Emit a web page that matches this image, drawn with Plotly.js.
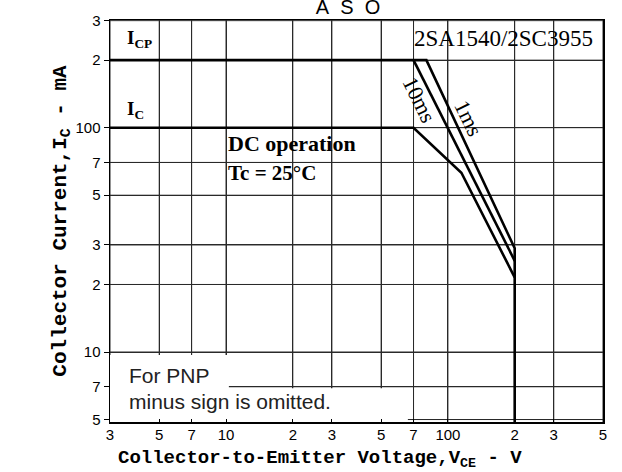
<!DOCTYPE html>
<html>
<head>
<meta charset="utf-8">
<script src="https://cdn.plot.ly/plotly-3.0.1.min.js"></script>
<style>html,body{margin:0;padding:0;background:#fff;}#chart{width:622px;height:472px;}</style>
</head>
<body>
<div id="chart"></div>
<script>
// Safe operating area data (VCE in V, IC in mA)
const vce1ms = [3, 80, 200, 200];
const ic1ms = [200, 200, 29, 4.8];
const vce10ms = [70, 200];
const ic10ms = [200, 25.5];
const vceDC = [3, 70, 115, 200];
const icDC = [100, 100, 63, 21.5];

// white note box behind the "For PNP" text (covers the grid there)
const noteBoxX = [3, 3, 10.3, 10.3, 66, 66, 3];
const noteBoxY = [4.5, 9.7, 9.7, 6.9, 6.9, 4.5, 4.5];

const xTickVals = [3, 5, 7, 10, 20, 30, 50, 70, 100, 200, 300, 500];
const xTickText = ['3', '5', '7', '10', '2', '3', '5', '7', '100', '2', '3', '5'];
const yTickVals = [5, 7, 10, 20, 30, 50, 70, 100, 200, 300];
const yTickText = ['5', '7', '10', '2', '3', '5', '7', '100', '2', '3'];

const L = Math.log10;
const xRange = [L(3), L(500)];
const yRange = [0.688, 2.48];

// grid drawn as line traces at the tick values (spanning the axis ranges)
const gx = [], gy = [];
xTickVals.forEach(v => { gx.push(v, v, null); gy.push(Math.pow(10, yRange[0]), Math.pow(10, yRange[1]), null); });
yTickVals.forEach(v => { gx.push(Math.pow(10, xRange[0]), Math.pow(10, xRange[1]), null); gy.push(v, v, null); });

const lineStyle = {color: '#000', width: 2.6};
const traces = [
  {x: gx, y: gy, mode: 'lines', line: {color: '#2a2a2a', width: 1}, hoverinfo: 'skip', connectgaps: false},
  {x: noteBoxX, y: noteBoxY, mode: 'none', fill: 'toself', fillcolor: '#fff', hoverinfo: 'skip'},
  {x: vce1ms, y: ic1ms, mode: 'lines', line: lineStyle, hoverinfo: 'skip'},
  {x: vce10ms, y: ic10ms, mode: 'lines', line: lineStyle, hoverinfo: 'skip'},
  {x: vceDC, y: icDC, mode: 'lines', line: lineStyle, hoverinfo: 'skip'}
];

const serif = 'Liberation Serif, Times New Roman, serif';
const sans = 'Liberation Sans, Arial, sans-serif';
const mono = 'Liberation Mono, Courier New, monospace';
const annotations = [
  {x: L(3.5), y: L(249), text: '<b>I<sub>CP</sub></b>', xanchor: 'left', yanchor: 'middle', font: {family: serif, size: 19, color: '#000'}},
  {x: L(3.5), y: L(120), text: '<b>I<sub>C</sub></b>', xanchor: 'left', yanchor: 'middle', font: {family: serif, size: 19, color: '#000'}},
  {x: L(10), y: L(85), text: '<b>DC operation</b>', xanchor: 'left', yanchor: 'middle', font: {family: serif, size: 22, color: '#000'}},
  {x: L(10), y: L(63), text: '<b>Tc = 25°C</b>', xanchor: 'left', yanchor: 'middle', font: {family: serif, size: 21, color: '#000'}},
  {x: L(460), y: L(249), text: '2SA1540/2SC3955', xanchor: 'right', yanchor: 'middle', font: {family: serif, size: 23, color: '#000'}},
  {x: L(74), y: L(133), text: '10ms', textangle: 64, xanchor: 'center', yanchor: 'middle', font: {family: serif, size: 22, color: '#000'}},
  {x: L(124), y: L(110), text: '1ms', textangle: 64, xanchor: 'center', yanchor: 'middle', font: {family: serif, size: 22, color: '#000'}},
  {x: L(3.58), y: L(7.82), text: 'For PNP', xanchor: 'left', yanchor: 'middle', font: {family: sans, size: 21, color: '#222'}},
  {x: L(3.58), y: L(6.0), text: 'minus sign is omitted.', xanchor: 'left', yanchor: 'middle', font: {family: sans, size: 21, color: '#222'}}
];
annotations.forEach(a => { a.xref = 'x'; a.yref = 'y'; a.showarrow = false; });
annotations.push({
  xref: 'paper', yref: 'paper', x: (320 - 110) / 493, y: -23 / 402, xanchor: 'center', yanchor: 'top', showarrow: false,
  text: '<b>Collector-to-Emitter Voltage,V<sub>CE</sub> - V</b>',
  font: {family: mono, size: 19, color: '#000'}
});

const layout = {
  width: 622, height: 472,
  margin: {l: 110, r: 19, t: 20, b: 50, pad: 0},
  paper_bgcolor: '#fff', plot_bgcolor: '#fff',
  showlegend: false,
  title: {text: 'A\u00a0\u00a0S\u00a0\u00a0O', x: 348 / 622, xanchor: 'center', y: 1 - 7 / 472, yanchor: 'middle',
          font: {family: sans, size: 20, color: '#000'}},
  xaxis: {
    type: 'log', range: xRange,
    tickvals: xTickVals, ticktext: xTickText, ticks: 'inside', ticklen: 3, tickcolor: '#000',
    ticklabelstandoff: -2,
    tickfont: {family: sans, size: 15, color: '#000'},
    showgrid: true, gridcolor: '#2a2a2a', gridwidth: 1,
    showline: true, linecolor: '#000', linewidth: 1.5, mirror: true, zeroline: false
  },
  yaxis: {
    type: 'log', range: yRange,
    tickvals: yTickVals, ticktext: yTickText, ticks: 'outside', ticklen: 5, tickcolor: '#000',
    tickfont: {family: sans, size: 15, color: '#000'},
    showgrid: true, gridcolor: '#2a2a2a', gridwidth: 1,
    showline: true, linecolor: '#000', linewidth: 1.5, mirror: true, zeroline: false,
    title: {text: '<b>Collector Current,I<sub>C</sub> - mA</b>', standoff: 3,
            font: {family: mono, size: 21, color: '#000'}}
  },
  annotations: annotations
};

Plotly.newPlot('chart', traces, layout, {displayModeBar: false, staticPlot: true});
</script>
</body>
</html>
